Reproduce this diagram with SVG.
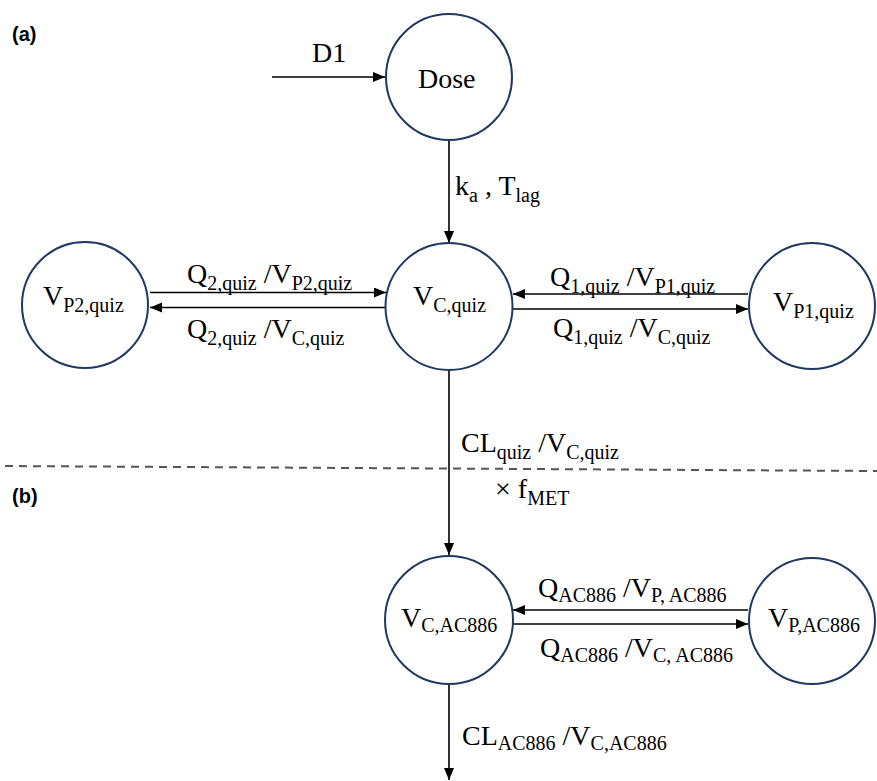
<svg xmlns="http://www.w3.org/2000/svg" width="877" height="781" viewBox="0 0 877 781">
<style>
text.t{font-family:"Liberation Serif","Times New Roman",serif;font-size:28px;fill:#000}
tspan.s{font-size:20px}
.node{fill:#fff;stroke:#1f3864;stroke-width:2}
.edge{stroke:#000;stroke-width:1.6;fill:none;marker-end:url(#ah)}
text.panel{font-family:"Liberation Sans",Arial,sans-serif;font-weight:bold;font-size:20px;fill:#000}
</style>
<defs>
<marker id="ah" markerUnits="userSpaceOnUse" markerWidth="13" markerHeight="11" refX="12" refY="5" orient="auto">
<path d="M0,0 L12,5 L0,10 z" fill="#000"/>
</marker>
</defs>
<rect width="877" height="781" fill="#fff"/>
<text class="panel" x="12" y="41">(a)</text>
<text class="panel" x="12" y="503">(b)</text>
<line x1="5" y1="466" x2="877" y2="471" stroke="#555" stroke-width="2" stroke-dasharray="8 6"/>
<g id="connectors" font-family="Liberation Serif, Times New Roman, serif">
<line class="edge" x1="272" y1="77" x2="385" y2="77"/>
<line class="edge" x1="449" y1="140" x2="449" y2="243"/>
<line class="edge" x1="150" y1="292.5" x2="386" y2="292.5"/>
<line class="edge" x1="386" y1="307.5" x2="150" y2="307.5"/>
<line class="edge" x1="748" y1="294" x2="513" y2="294"/>
<line class="edge" x1="513" y1="309" x2="748" y2="309"/>
<line class="edge" x1="449" y1="370" x2="449" y2="555"/>
<line class="edge" x1="748" y1="610" x2="513" y2="610"/>
<line class="edge" x1="513" y1="624" x2="748" y2="624"/>
<line class="edge" x1="449" y1="685" x2="449" y2="780"/>
<text class="t" font-family="Liberation Serif, serif" x="312" y="62">D1</text>
<text class="t" font-family="Liberation Serif, serif" x="455" y="195">k<tspan class="s" dy="7">a</tspan><tspan dy="-7"> , T</tspan><tspan class="s" dy="7">lag</tspan></text>
<text class="t" font-family="Liberation Serif, serif" x="187" y="283">Q<tspan class="s" dy="7">2,quiz</tspan><tspan dy="-7"> /V</tspan><tspan class="s" dy="7">P2,quiz</tspan></text>
<text class="t" font-family="Liberation Serif, serif" x="187" y="338">Q<tspan class="s" dy="7">2,quiz</tspan><tspan dy="-7"> /V</tspan><tspan class="s" dy="7">C,quiz</tspan></text>
<text class="t" font-family="Liberation Serif, serif" x="550" y="286">Q<tspan class="s" dy="7">1,quiz</tspan><tspan dy="-7"> /V</tspan><tspan class="s" dy="7">P1,quiz</tspan></text>
<text class="t" font-family="Liberation Serif, serif" x="553" y="337">Q<tspan class="s" dy="7">1,quiz</tspan><tspan dy="-7"> /V</tspan><tspan class="s" dy="7">C,quiz</tspan></text>
<text class="t" font-family="Liberation Serif, serif" x="461" y="452">CL<tspan class="s" dy="7">quiz</tspan><tspan dy="-7"> /V</tspan><tspan class="s" dy="7">C,quiz</tspan></text>
<text class="t" font-family="Liberation Serif, serif" x="495" y="498">× f<tspan class="s" dy="7">MET</tspan></text>
<text class="t" font-family="Liberation Serif, serif" x="538" y="597">Q<tspan class="s" dy="5">AC886</tspan><tspan dy="-5"> /V</tspan><tspan class="s" dy="5">P, AC886</tspan></text>
<text class="t" font-family="Liberation Serif, serif" x="540" y="657">Q<tspan class="s" dy="5">AC886</tspan><tspan dy="-5"> /V</tspan><tspan class="s" dy="5">C, AC886</tspan></text>
<text class="t" font-family="Liberation Serif, serif" x="462" y="745">CL<tspan class="s" dy="5">AC886</tspan><tspan dy="-5"> /V</tspan><tspan class="s" dy="5">C,AC886</tspan></text>
</g>
<g id="dose"><circle class="node" cx="449" cy="77" r="63"/><text class="t" font-family="Liberation Serif, serif" x="418" y="88">Dose</text></g>
<g id="vc_quiz"><circle class="node" cx="449" cy="306.5" r="63.5"/><text class="t" font-family="Liberation Serif, serif" x="413" y="305">V<tspan class="s" dy="7">C,quiz</tspan></text></g>
<g id="vp2_quiz"><circle class="node" cx="85" cy="305" r="63"/><text class="t" font-family="Liberation Serif, serif" x="43" y="305">V<tspan class="s" dy="7">P2,quiz</tspan></text></g>
<g id="vp1_quiz"><circle class="node" cx="812" cy="306" r="63"/><text class="t" font-family="Liberation Serif, serif" x="773" y="311">V<tspan class="s" dy="7">P1,quiz</tspan></text></g>
<g id="vc_ac886"><circle class="node" cx="449" cy="620" r="64"/><text class="t" font-family="Liberation Serif, serif" x="401" y="627">V<tspan class="s" dy="5">C,AC886</tspan></text></g>
<g id="vp_ac886"><circle class="node" cx="812" cy="621" r="63"/><text class="t" font-family="Liberation Serif, serif" x="768" y="627">V<tspan class="s" dy="5">P,AC886</tspan></text></g>
</svg>
